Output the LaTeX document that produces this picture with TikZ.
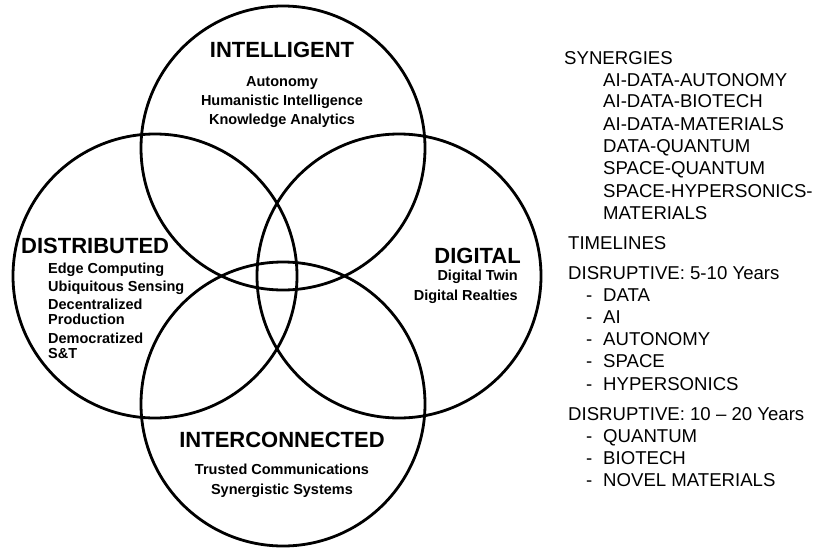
\documentclass[tikz,border=0pt]{standalone}
\usepackage{fontspec}
\setmainfont{Liberation Sans}

\begin{document}
\begin{tikzpicture}[x=1pt,y=-1pt,
  ring/.style={draw, circle, line width=2.8pt, minimum size=284pt, inner sep=0pt},
  head/.style={font=\fontsize{22}{26}\selectfont\bfseries, anchor=base, inner sep=0pt},
  item/.style={font=\fontsize{14.5}{17}\selectfont\bfseries, anchor=base, inner sep=0pt},
  side/.style={font=\fontsize{18.6}{22}\selectfont, anchor=base west, inner sep=0pt}]
\useasboundingbox (0,0) rectangle (816,549);

% the four rings
\node[ring] (intel) at (283,148) {};
\node[ring] (distr) at (155,276) {};
\node[ring] (digit) at (399,276) {};
\node[ring] (inter) at (283,404) {};

% intelligent
\node[head] (intelhead) at (282,57) {INTELLIGENT};
\node[item] (auto) at (282,86) {Autonomy};
\node[item] (human) at (282,105.4) {Humanistic Intelligence};
\node[item] (know) at (282,124.7) {Knowledge Analytics};

% distributed
\node[head, anchor=base west] (distrhead) at (21,253.8) {DISTRIBUTED};
\node[item, anchor=base west] (edge) at (48,273) {Edge Computing};
\node[item, anchor=base west] (ubiq) at (48,291) {Ubiquitous Sensing};
\node[item, anchor=base west] (decent) at (48,309) {Decentralized};
\node[item, anchor=base west] (prod) at (48,324.7) {Production};
\node[item, anchor=base west] (democ) at (48,343) {Democratized};
\node[item, anchor=base west] (snt) at (48,358.5) {S\&T};

% digital
\node[head, anchor=base east] (digithead) at (521,263.4) {DIGITAL};
\node[item, anchor=base east] (twin) at (518,280.6) {Digital Twin};
\node[item, anchor=base east] (realt) at (518,300.6) {Digital Realties};

% interconnected
\node[head] (interhead) at (282,447) {INTERCONNECTED};
\node[item] (trust) at (282,474) {Trusted Communications};
\node[item] (syner) at (282,494) {Synergistic Systems};

% side list
\node[side] (synhead) at (564,64) {SYNERGIES};
\node[side] (syn1) at (603,86) {AI-DATA-AUTONOMY};
\node[side] (syn2) at (603,107.5) {AI-DATA-BIOTECH};
\node[side] (syn3) at (603,130) {AI-DATA-MATERIALS};
\node[side] (syn4) at (603,152.5) {DATA-QUANTUM};
\node[side] (syn5) at (603,174) {SPACE-QUANTUM};
\node[side] (syn6) at (603,197.5) {SPACE-HYPERSONICS-};
\node[side] (syn7) at (603,219) {MATERIALS};
\node[side] (timehead) at (568,249) {TIMELINES};
\node[side] (short) at (568,279) {DISRUPTIVE: 5-10 Years};
\node[side] (d1) at (586,301) {-};
\node[side] (s1) at (603,301) {DATA};
\node[side] (d2) at (586,323) {-};
\node[side] (s2) at (603,323) {AI};
\node[side] (d3) at (586,345) {-};
\node[side] (s3) at (603,345) {AUTONOMY};
\node[side] (d4) at (586,367.5) {-};
\node[side] (s4) at (603,367.5) {SPACE};
\node[side] (d5) at (586,390) {-};
\node[side] (s5) at (603,390) {HYPERSONICS};
\node[side] (long) at (568,420) {DISRUPTIVE: 10 -- 20 Years};
\node[side] (d6) at (586,442) {-};
\node[side] (l1) at (603,442) {QUANTUM};
\node[side] (d7) at (586,464) {-};
\node[side] (l2) at (603,464) {BIOTECH};
\node[side] (d8) at (586,486) {-};
\node[side] (l3) at (603,486) {NOVEL MATERIALS};
\end{tikzpicture}
\end{document}
